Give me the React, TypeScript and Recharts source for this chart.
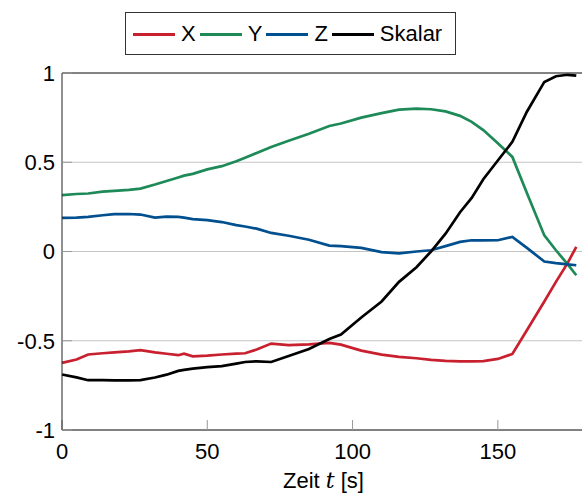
import { CartesianGrid, Line, LineChart, XAxis, YAxis } from "recharts";

// time axis in seconds, shared by all four series
const TIME = [0, 5, 9, 14, 18, 23, 27, 32, 36, 40, 42, 45, 50, 55, 60, 63, 67, 72, 78, 85, 92, 96, 103, 110, 116, 122, 127, 132, 137, 141, 145, 150, 155, 160, 166, 170, 174, 177];

const X_VALUES = [-0.624, -0.605, -0.577, -0.57, -0.565, -0.56, -0.553, -0.565, -0.573, -0.581, -0.572, -0.587, -0.583, -0.577, -0.572, -0.57, -0.549, -0.516, -0.525, -0.52, -0.512, -0.522, -0.555, -0.578, -0.59, -0.598, -0.607, -0.613, -0.615, -0.616, -0.614, -0.602, -0.574, -0.441, -0.28, -0.17, -0.065, 0.026];
const Y_VALUES = [0.316, 0.322, 0.325, 0.335, 0.34, 0.345, 0.352, 0.375, 0.395, 0.415, 0.425, 0.435, 0.46, 0.478, 0.505, 0.525, 0.552, 0.586, 0.62, 0.66, 0.703, 0.717, 0.75, 0.775, 0.795, 0.8, 0.797, 0.785, 0.76, 0.726, 0.68, 0.607, 0.53, 0.328, 0.09, 0.007, -0.071, -0.133];
const Z_VALUES = [0.188, 0.19, 0.194, 0.203, 0.209, 0.21, 0.207, 0.19, 0.195, 0.194, 0.19, 0.181, 0.176, 0.165, 0.148, 0.14, 0.128, 0.104, 0.088, 0.066, 0.033, 0.03, 0.02, -0.003, -0.01, 0.0, 0.007, 0.03, 0.054, 0.063, 0.062, 0.063, 0.082, 0.02, -0.056, -0.065, -0.072, -0.077];
const SKALAR_VALUES = [-0.689, -0.705, -0.721, -0.721, -0.722, -0.722, -0.721, -0.706, -0.69, -0.669, -0.663, -0.656, -0.648, -0.642, -0.628, -0.619, -0.615, -0.619, -0.585, -0.546, -0.49, -0.465, -0.37, -0.28, -0.17, -0.088, 0.0, 0.1, 0.22, 0.3, 0.405, 0.51, 0.614, 0.783, 0.95, 0.982, 0.99, 0.985];

const X_TICKS = [0, 50, 100, 150];
const Y_TICKS = [-1, -0.5, 0, 0.5, 1];

const SERIES = [
  { key: "x", name: "X", color: "#c8202f" },
  { key: "y", name: "Y", color: "#1d8a58" },
  { key: "z", name: "Z", color: "#004f8f" },
  { key: "s", name: "Skalar", color: "#000000" },
];

const FONT = "'Liberation Sans', Arial, Helvetica, sans-serif";
const TICK = { fontSize: 22, fill: "#000", fontFamily: FONT };
const AXIS_LINE = { stroke: "#222", strokeWidth: 1 };
const TICK_LINE = { stroke: "#999", strokeWidth: 1 };

const data = TIME.map((t, i) => ({
  t,
  x: X_VALUES[i],
  y: Y_VALUES[i],
  z: Z_VALUES[i],
  s: SKALAR_VALUES[i],
}));

function AxisTitle({ viewBox }: any) {
  const cx = viewBox.x + viewBox.width / 2;
  return (
    <text x={cx} y={viewBox.y + 58} textAnchor="middle" fontSize={22} fontFamily={FONT} fill="#000">
      Zeit <tspan fontFamily="'DejaVu Serif', 'Liberation Serif', serif" fontStyle="italic">t</tspan> [s]
    </text>
  );
}

function LegendBox() {
  return (
    <div
      style={{
        position: "absolute",
        left: 125,
        top: 12,
        width: 331,
        height: 43,
        boxSizing: "border-box",
        border: "1px solid #333",
        background: "#fff",
        display: "flex",
        alignItems: "center",
        paddingLeft: 7,
        fontFamily: FONT,
        fontSize: 22,
        color: "#000",
      }}
    >
      {SERIES.map((s) => (
        <div key={s.key} style={{ display: "flex", alignItems: "center", marginRight: 4 }}>
          <div style={{ width: 42, height: 3, background: s.color, marginRight: 6, marginTop: 2 }} />
          <span style={{ lineHeight: "22px" }}>{s.name}</span>
        </div>
      ))}
    </div>
  );
}

export default function App() {
  return (
    <div style={{ position: "absolute", left: 0, top: 0, width: 582, height: 494, overflow: "hidden", background: "#fff" }}>
      <LineChart width={590} height={494} data={data} margin={{ top: 72, right: 4, bottom: 0, left: 0 }}>
        <CartesianGrid horizontal vertical={false} stroke="#c4c4c4" strokeWidth={1} />
        <XAxis
          dataKey="t"
          type="number"
          domain={[0, 180]}
          ticks={X_TICKS}
          height={64}
          tick={TICK}
          tickSize={-10}
          tickMargin={23}
          axisLine={AXIS_LINE}
          tickLine={TICK_LINE}
          label={<AxisTitle />}
        />
        <XAxis
          xAxisId="top"
          orientation="top"
          dataKey="t"
          type="number"
          domain={[0, 180]}
          ticks={X_TICKS}
          height={1}
          tick={false}
          tickSize={-10}
          axisLine={AXIS_LINE}
          tickLine={TICK_LINE}
        />
        <YAxis
          type="number"
          domain={[-1, 1]}
          ticks={Y_TICKS}
          width={62}
          tick={TICK}
          tickSize={-10}
          tickMargin={17}
          axisLine={AXIS_LINE}
          tickLine={TICK_LINE}
          tickFormatter={(v: number) => String(v)}
        />
        <YAxis
          yAxisId="right"
          orientation="right"
          type="number"
          domain={[-1, 1]}
          ticks={Y_TICKS}
          width={1}
          tick={false}
          tickSize={-10}
          axisLine={AXIS_LINE}
          tickLine={TICK_LINE}
        />
        {SERIES.map((s) => (
          <Line
            key={s.key}
            dataKey={s.key}
            name={s.name}
            type="linear"
            stroke={s.color}
            strokeWidth={2.7}
            dot={false}
            isAnimationActive={false}
          />
        ))}
      </LineChart>
      <LegendBox />
    </div>
  );
}
